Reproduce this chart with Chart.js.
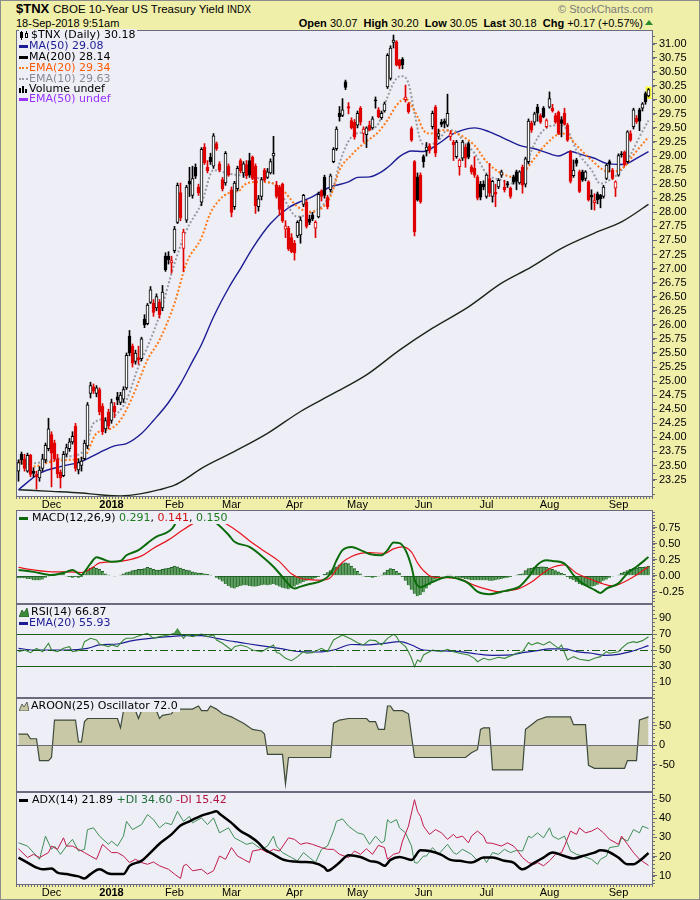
<!DOCTYPE html>
<html>
<head>
<meta charset="utf-8">
<title>$TNX CBOE 10-Year US Treasury Yield</title>
<script src="https://cdn.jsdelivr.net/npm/chart.js"></script>
<style>
  body { margin: 0; background: #fff; }
  #page { position: relative; width: 700px; height: 900px; background: #f0efaa; overflow: hidden;
          font-family: "Liberation Sans", Arial, sans-serif; color: #000; }
  #page canvas { position: absolute; left: 0; }
  .t { position: absolute; white-space: nowrap; font-size: 11px; line-height: 12px; }
  .lg { position: absolute; white-space: nowrap; font: 11px/12px "DejaVu Sans", sans-serif; background: #eeeef6; padding-right: 2px; }
  .ic { display: inline-block; vertical-align: middle; margin-right: 2px; }
  .dash { width: 9px; height: 3px; }
  .dots { width: 9px; height: 0; border-top: 2px dotted; }
  #edge { position: absolute; left: 0; top: 0; width: 700px; height: 900px; box-sizing: border-box; border: 1px solid #8c8c8c; pointer-events: none; }
</style>
</head>
<body>
<div id="page">
  <div class="t" style="left:16px;top:1px;font-size:13px;line-height:15px;font-weight:bold">$TNX</div>
  <div class="t" style="left:53px;top:3px;font-size:11.5px;line-height:13px">CBOE 10-Year US Treasury Yield <span style="font-size:10px">INDX</span></div>
  <div class="t" style="left:16px;top:17px">18-Sep-2018 9:51am</div>
  <div class="t" style="right:47px;top:3px;color:#7a7a7a">© StockCharts.com</div>
  <div class="t" style="right:57px;top:17px"><b>Open</b> 30.07&nbsp; <b>High</b> 30.20&nbsp; <b>Low</b> 30.05&nbsp; <b>Last</b> 30.18&nbsp; <b>Chg</b> +0.17 (+0.57%)</div>
  <div style="position:absolute;left:645px;top:20px;width:0;height:0;border-left:4px solid transparent;border-right:4px solid transparent;border-bottom:5px solid #2b8a2b"></div>

  <canvas id="price" width="700" height="482" style="top:30px"></canvas>
  <canvas id="macd" width="700" height="94" style="top:510px"></canvas>
  <canvas id="rsi" width="700" height="94" style="top:604px"></canvas>
  <canvas id="aroon" width="700" height="94" style="top:698px"></canvas>
  <canvas id="adx" width="700" height="108" style="top:792px"></canvas>

  <div class="lg" style="left:19px;top:29px"><svg class="ic" width="10" height="9"><rect x="1" y="1" width="3" height="6" fill="#000"/><line x1="2.5" y1="0" x2="2.5" y2="9" stroke="#000"/><rect x="6.5" y="2.5" width="2" height="4" fill="none" stroke="#000"/><line x1="7.5" y1="0" x2="7.5" y2="2" stroke="#000"/></svg>$TNX (Daily) 30.18</div>
  <div class="lg" style="left:19px;top:40px;color:#1c1c96"><span class="ic dash" style="background:#1c1c96;margin-right:1px"></span>MA(50) 29.08</div>
  <div class="lg" style="left:19px;top:51px"><span class="ic dash" style="background:#000;margin-right:1px"></span>MA(200) 28.14</div>
  <div class="lg" style="left:19px;top:62px;color:#ff5a00"><span class="ic dots" style="border-color:#ff7a1a;margin-right:1px"></span>EMA(20) 29.34</div>
  <div class="lg" style="left:19px;top:73px;color:#8a8a92"><span class="ic dots" style="border-color:#9a9aa2;margin-right:1px"></span>EMA(10) 29.63</div>
  <div class="lg" style="left:19px;top:83px"><svg class="ic" width="10" height="9" style="margin-right:0"><rect x="0" y="3" width="2" height="6" fill="#000"/><rect x="3" y="1" width="2" height="8" fill="#000"/><rect x="6" y="4" width="2" height="5" fill="#000"/></svg>Volume undef</div>
  <div class="lg" style="left:19px;top:93px;color:#9933ff"><span class="ic dash" style="background:#9933ff;margin-right:1px"></span>EMA(50) undef</div>

  <div class="lg" style="left:19px;top:512px"><span class="ic dash" style="background:#0b6b0b;margin-right:4px"></span>MACD(12,26,9) <span style="color:#1e7a1e">0.291</span>, <span style="color:#d01010">0.141</span>, <span style="color:#1e7a1e">0.150</span></div>
  <div class="lg" style="left:19px;top:606px"><svg class="ic" width="10" height="9"><polygon points="0,9 3,2 5,5 8,0 10,9" fill="#3a8a3a" stroke="#1f5f1f" stroke-width="0.8"/></svg>RSI(14) 66.87</div>
  <div class="lg" style="left:19px;top:617px;color:#1c1c96"><span class="ic dash" style="background:#1c1c96;margin-right:1px"></span>EMA(20) 55.93</div>
  <div class="lg" style="left:19px;top:700px"><svg class="ic" width="10" height="9"><polygon points="0,9 3,2 5,5 8,0 10,9" fill="#c9c8a6" stroke="#3b4a3b" stroke-width="0.8"/></svg>AROON(25) Oscillator 72.0</div>
  <div class="lg" style="left:19px;top:794px"><span class="ic dash" style="background:#000;margin-right:4px"></span>ADX(14) 21.89 <span style="color:#1f6e3a">+DI 34.60</span> <span style="color:#b0143e">-DI 15.42</span></div>

  <div id="edge"></div>
</div>

<script>
// trading day index of the first candle (0 = 1-Dec-2017)
const firstDay = -11;

// month labels on the date axis and the day index they sit on
const monthNames = ['Dec', '2018', 'Feb', 'Mar', 'Apr', 'May', 'Jun', 'Jul', 'Aug', 'Sep'];
const monthDays = [0, 20, 41, 60, 81, 102, 124, 145, 166, 189];

// daily candles, 15-Nov-2017 .. 18-Sep-2018
const opens = [
  23.40,23.70,23.62,23.40,23.68,23.40,23.34,23.28,23.45,23.60,
  23.80,24.05,23.90,23.62,23.38,23.32,23.70,23.80,23.92,24.20,
  23.42,23.50,23.62,23.85,24.78,24.90,24.78,24.85,24.55,24.15,
  24.45,24.30,24.55,24.72,24.62,24.68,24.88,25.80,25.62,25.35,
  25.42,25.40,26.10,26.02,26.40,26.38,26.30,26.40,26.30,27.22,
  27.22,27.10,27.32,27.82,28.35,27.36,27.86,28.55,28.30,28.80,
  28.45,28.18,29.16,28.80,28.98,28.82,29.22,28.86,28.58,28.52,
  28.82,28.40,28.10,28.42,28.92,28.70,28.85,28.92,28.98,28.82,
  28.10,28.28,28.75,28.62,28.70,29.00,28.48,28.45,28.50,27.70,
  27.72,27.55,27.45,27.58,27.60,28.14,28.18,27.88,27.95,27.72,
  27.92,28.38,28.62,28.26,28.40,28.90,29.13,29.76,29.72,30.32,
  29.88,29.63,29.60,29.55,29.85,29.40,29.38,29.55,29.50,30.00,
  29.82,29.68,29.80,30.23,30.38,31.02,31.03,30.70,30.72,30.00,
  29.93,29.49,28.90,28.63,28.66,28.99,29.10,29.18,29.52,29.87,
  29.35,29.60,29.62,29.55,29.35,29.25,28.99,28.81,28.96,29.16,
  29.22,28.81,28.78,28.63,28.50,28.50,28.28,28.60,28.28,28.36,
  28.45,28.66,28.45,28.51,28.43,28.63,28.72,28.52,28.80,28.50,
  28.90,29.58,29.60,29.87,29.72,29.85,29.52,29.87,29.85,29.72,
  29.78,29.65,29.76,29.55,29.07,28.65,28.93,28.72,28.72,28.60,
  28.54,28.30,28.17,28.33,28.30,28.28,28.60,28.90,28.75,28.43,
  28.66,29.04,29.07,28.90,29.40,29.52,29.67,29.82,29.85,30.11,30.07
];
const highs = [
  23.60,23.74,23.70,23.72,23.70,23.46,23.40,23.48,23.70,23.90,
  24.34,24.10,23.95,23.70,23.42,23.75,23.88,23.98,24.10,24.25,
  23.62,23.65,23.95,24.62,24.98,24.95,24.92,24.88,24.60,24.35,
  24.50,24.68,24.62,24.80,24.80,24.90,25.50,25.90,25.66,25.55,
  25.62,25.78,26.18,26.38,26.68,26.45,26.55,26.45,26.70,27.28,
  27.30,27.22,27.75,28.52,28.52,27.70,28.48,28.80,28.82,28.86,
  28.50,29.15,29.22,28.92,29.05,29.40,29.25,28.90,28.62,29.08,
  28.86,28.45,28.55,28.82,28.95,28.90,28.92,29.05,29.00,28.86,
  28.30,28.62,28.78,28.78,28.95,29.35,28.55,28.48,28.52,27.85,
  27.75,27.62,27.50,27.85,27.92,28.32,28.22,27.95,28.00,27.85,
  28.36,28.40,28.66,28.30,28.68,29.15,29.52,29.88,30.02,30.35,
  29.95,29.68,29.65,29.80,29.88,29.52,29.52,29.62,29.70,30.05,
  29.86,29.80,29.96,30.82,30.96,31.15,31.05,30.72,30.75,30.26,
  29.95,29.52,28.92,28.70,28.70,29.02,29.24,29.22,29.80,29.90,
  29.48,29.65,29.66,30.10,29.45,29.28,29.28,28.95,29.28,29.20,
  29.25,28.84,28.99,28.66,28.55,28.56,28.68,28.87,28.57,28.50,
  28.60,28.75,28.57,28.55,28.45,28.66,28.75,28.74,28.84,28.98,
  29.66,29.62,29.78,29.92,29.75,29.88,29.66,30.14,29.92,29.76,
  29.80,29.70,29.85,29.58,29.10,28.93,28.96,28.75,28.75,28.74,
  28.56,28.40,28.33,28.36,28.32,28.48,28.86,28.93,28.78,28.56,
  29.04,29.08,29.09,29.45,29.45,29.85,29.72,29.85,29.95,30.14,30.20
];
const lows = [
  23.22,23.52,23.40,23.38,23.30,23.30,23.08,23.22,23.40,23.55,
  23.76,23.12,23.58,23.28,23.10,23.30,23.66,23.75,23.88,23.40,
  23.35,23.40,23.60,23.80,24.70,24.78,24.72,24.40,24.05,24.08,
  24.15,24.25,24.35,24.58,24.58,24.62,24.85,25.45,25.25,25.30,
  25.30,25.36,25.95,26.00,26.38,26.15,26.25,26.12,26.25,26.95,
  27.08,26.92,27.28,27.80,27.85,26.95,27.82,28.28,28.25,28.60,
  28.30,28.12,28.85,28.70,28.85,28.78,29.10,28.72,28.38,28.48,
  28.64,27.92,28.05,28.38,28.70,28.62,28.60,28.62,28.58,27.98,
  28.02,28.22,28.55,28.60,28.68,28.68,28.25,27.95,27.82,27.55,
  27.32,27.28,27.15,27.55,27.45,28.10,27.72,27.78,27.85,27.55,
  27.90,28.20,28.25,28.06,28.36,28.88,29.10,29.62,29.70,30.18,
  29.75,29.48,29.30,29.50,29.55,29.25,29.15,29.45,29.48,29.85,
  29.68,29.65,29.78,30.20,30.35,30.92,30.60,30.55,30.55,29.96,
  29.76,29.26,27.58,28.20,28.16,28.80,29.00,29.05,29.48,28.99,
  29.30,29.52,29.50,29.52,29.28,28.92,28.96,28.66,28.92,28.80,
  28.95,28.68,28.62,28.22,28.22,28.40,28.25,28.28,28.18,28.10,
  28.42,28.62,28.36,28.44,28.25,28.50,28.40,28.50,28.34,28.45,
  28.86,29.42,29.55,29.62,29.58,29.68,29.50,29.85,29.78,29.58,
  29.38,29.34,29.55,29.26,28.52,28.62,28.82,28.35,28.55,28.56,
  28.20,28.05,28.04,28.15,28.08,28.25,28.58,28.72,28.58,28.28,
  28.64,28.98,28.82,28.88,29.26,29.48,29.58,29.45,29.80,29.92,30.05
];
const closes = [
  23.55,23.60,23.45,23.68,23.34,23.36,23.30,23.42,23.62,23.86,
  24.15,23.72,23.62,23.35,23.28,23.70,23.82,23.92,24.02,23.45,
  23.55,23.58,23.90,24.58,24.92,24.82,24.88,24.45,24.10,24.30,
  24.20,24.62,24.45,24.66,24.75,24.85,25.46,25.50,25.32,25.50,
  25.38,25.75,26.00,26.35,26.62,26.22,26.50,26.18,26.58,26.98,
  27.16,27.14,27.70,28.48,27.90,27.65,28.45,28.50,28.60,28.64,
  28.35,29.12,28.88,28.74,28.90,29.36,29.13,28.75,28.42,29.05,
  28.66,28.00,28.52,28.78,28.74,28.86,28.65,28.66,28.60,28.12,
  28.24,28.58,28.57,28.72,28.90,29.05,28.28,28.05,27.85,27.76,
  27.35,27.30,27.28,27.82,27.86,28.30,27.75,27.82,27.88,27.82,
  28.32,28.28,28.30,28.10,28.65,29.12,29.48,29.70,29.82,30.22,
  29.85,29.50,29.34,29.76,29.60,29.48,29.50,29.46,29.66,29.98,
  29.70,29.76,29.93,30.79,30.92,31.06,30.62,30.60,30.62,30.05,
  29.79,29.28,27.65,28.22,28.19,28.90,29.16,29.10,29.76,29.05,
  29.40,29.56,29.58,29.76,29.40,29.20,29.25,28.93,29.25,28.96,
  28.98,28.72,28.66,28.25,28.27,28.45,28.66,28.34,28.55,28.32,
  28.57,28.72,28.40,28.48,28.28,28.54,28.55,28.72,28.48,28.95,
  29.62,29.46,29.75,29.76,29.60,29.70,29.63,30.02,29.80,29.60,
  29.40,29.58,29.56,29.28,28.55,28.75,28.87,28.37,28.57,28.72,
  28.22,28.27,28.21,28.22,28.24,28.45,28.84,28.86,28.60,28.54,
  29.01,29.02,28.84,29.43,29.28,29.82,29.61,29.62,29.93,29.96,30.18
];

// overlays: [day, value]
const ma50 = [[-11,23.07],[-4,23.36],[3,23.48],[10,23.57],[16,23.73],[21,23.85],[25,23.89],[30,24.07],[34,24.30],[39,24.62],[43,24.95],[47,25.35],[50,25.65],[54,26.14],[59,26.65],[63,27.0],[67,27.36],[73,27.8],[79,28.08],[83,28.19],[86,28.25],[90,28.37],[93,28.45],[99,28.54],[102,28.62],[106,28.63],[110,28.72],[113,28.84],[116,28.99],[120,29.09],[124,29.08],[129,29.22],[133,29.37],[137,29.46],[141,29.50],[146,29.43],[151,29.31],[156,29.19],[161,29.13],[165,29.06],[169,29.0],[173,29.08],[177,29.02],[181,28.96],[185,28.87],[190,28.85],[192,28.87],[195,28.96],[199,29.08]];
const ma200 = [[-11,23.07],[0,23.04],[10,23.01],[16,22.98],[23,22.96],[30,23.0],[36,23.07],[41,23.15],[45,23.27],[50,23.45],[61,23.75],[72,24.07],[83,24.46],[94,24.78],[105,25.11],[116,25.55],[127,25.94],[139,26.32],[150,26.74],[160,27.03],[170,27.36],[181,27.63],[190,27.83],[199,28.14]];
const ema20 = [[-11,23.57],[-6,23.48],[0,23.57],[6,23.60],[11,23.66],[15,24.07],[20,24.16],[23,24.31],[27,24.72],[32,25.38],[36,25.73],[41,26.38],[45,27.10],[50,27.55],[53,27.99],[56,28.22],[59,28.34],[63,28.40],[64,28.48],[69,28.54],[74,28.51],[77,28.40],[82,28.10],[86,28.01],[90,28.07],[93,28.28],[96,28.75],[100,29.02],[104,29.22],[109,29.43],[112,29.64],[115,29.9],[118,30.02],[120,29.9],[122,29.7],[124,29.46],[126,29.4],[131,29.46],[135,29.4],[137,29.35],[141,29.19],[145,28.9],[150,28.69],[154,28.63],[157,28.69],[161,28.96],[165,29.22],[170,29.4],[172,29.37],[175,29.19],[180,28.93],[184,28.75],[187,28.72],[191,28.81],[194,29.02],[199,29.34]];
const ema10 = [[-11,23.6],[-6,23.54],[0,23.6],[6,23.66],[11,23.78],[14,24.25],[19,24.34],[22,24.43],[25,24.66],[29,25.26],[32,25.61],[36,26.17],[41,27.09],[45,27.68],[50,28.16],[54,28.75],[59,28.69],[63,28.66],[66,28.69],[71,28.54],[74,28.51],[77,28.28],[82,27.92],[86,27.98],[91,28.16],[94,28.45],[96,28.87],[100,29.34],[104,29.43],[109,29.58],[112,30.05],[115,30.38],[117,30.42],[119,30.29],[121,29.76],[123,29.28],[125,29.19],[129,29.28],[132,29.46],[135,29.43],[137,29.28],[141,29.05],[145,28.69],[150,28.57],[154,28.51],[157,28.69],[161,29.22],[164,29.46],[169,29.55],[172,29.46],[175,29.1],[180,28.75],[183,28.51],[186,28.57],[190,28.75],[193,29.02],[196,29.34],[199,29.63]];

// MACD(12,26,9)
const macdLine = [[-11,0.09],[-6,0.06],[0,0.01],[5,0.06],[7,0.09],[10,0.01],[11,0.06],[13,0.19],[15,0.29],[17,0.26],[20,0.22],[23,0.23],[25,0.32],[29,0.40],[32,0.51],[35,0.61],[39,0.69],[41,0.79],[42,0.92],[45,0.97],[48,0.98],[51,0.94],[55,0.82],[59,0.64],[61,0.53],[66,0.45],[71,0.27],[74,0.14],[77,-0.02],[80,-0.18],[81,-0.20],[83,-0.17],[86,-0.13],[90,-0.08],[93,0.03],[95,0.24],[97,0.40],[100,0.45],[103,0.40],[106,0.34],[110,0.32],[112,0.40],[114,0.52],[116,0.51],[118,0.40],[120,0.14],[121,-0.06],[123,-0.18],[126,-0.12],[130,-0.04],[132,-0.02],[135,-0.04],[139,-0.12],[142,-0.25],[146,-0.29],[150,-0.25],[153,-0.22],[156,-0.17],[159,-0.02],[162,0.17],[165,0.24],[167,0.23],[171,0.19],[174,0.01],[177,-0.12],[181,-0.22],[183,-0.27],[185,-0.20],[189,-0.12],[192,0.04],[195,0.14],[199,0.291]];
const macdSignal = [[-11,0.13],[-6,0.09],[0,0.06],[5,0.06],[10,0.05],[14,0.14],[16,0.20],[21,0.22],[25,0.24],[30,0.31],[34,0.43],[39,0.56],[43,0.69],[47,0.81],[50,0.87],[53,0.89],[56,0.86],[59,0.79],[63,0.66],[67,0.51],[72,0.35],[76,0.22],[80,0.03],[83,-0.04],[86,-0.06],[90,-0.07],[93,-0.03],[95,0.10],[97,0.21],[100,0.30],[103,0.35],[106,0.36],[111,0.35],[114,0.42],[117,0.45],[120,0.37],[122,0.20],[124,0.08],[127,-0.02],[132,-0.03],[136,-0.05],[141,-0.15],[145,-0.21],[149,-0.25],[153,-0.23],[156,-0.20],[160,-0.10],[163,0.01],[166,0.11],[171,0.17],[175,0.04],[180,-0.06],[184,-0.13],[187,-0.16],[192,-0.07],[195,0.01],[199,0.141]];
const macdHist = [
  -0.04,-0.04,-0.04,-0.05,-0.05,-0.07,-0.07,-0.07,-0.06,
  -0.03,-0.01,0.01,0.02,0.03,0.04,0.04,
  -0.01,-0.02,-0.03,-0.02,-0.03,-0.02,
  0.03,0.08,0.12,0.13,0.12,0.10,0.07,0.03,
  0.01,0.00,-0.01,0.00,0.01,
  0.03,0.05,0.06,0.08,0.09,0.10,0.10,0.11,0.13,0.12,0.10,0.09,0.09,0.10,0.11,0.12,0.13,
  0.15,0.14,0.12,0.10,0.09,0.08,0.06,0.05,0.04,0.04,0.03,0.02,0.01,0.00,
  -0.03,-0.06,-0.09,-0.13,-0.16,-0.19,-0.20,-0.18,-0.16,
  -0.15,-0.15,-0.16,-0.17,-0.17,-0.16,-0.15,-0.14,-0.15,-0.14,-0.13,
  -0.15,-0.17,-0.19,-0.20,-0.21,-0.19,-0.17,
  -0.14,-0.12,-0.10,-0.08,-0.07,-0.06,-0.04,-0.02,
  0.00,0.02,0.05,0.08,0.11,0.14,0.17,0.19,0.20,0.19,
  0.15,0.11,0.07,0.03,
  -0.01,-0.02,-0.02,-0.03,-0.02,-0.01,0.01,
  0.05,0.09,0.11,0.10,0.07,0.04,
  -0.02,-0.08,-0.15,-0.22,-0.28,-0.32,-0.30,-0.26,-0.20,-0.15,-0.10,-0.06,
  -0.03,-0.01,0.00,0.01,0.01,0.00,-0.02,
  -0.03,-0.04,-0.05,-0.06,-0.07,-0.07,-0.07,-0.07,-0.07,-0.07,-0.08,-0.08,-0.07,-0.06,-0.05,-0.04,-0.03,-0.02,
  0.00,0.01,0.02,0.03,
  0.08,0.11,0.12,0.13,0.13,0.14,0.14,0.13,0.12,0.10,0.08,0.06,0.04,0.02,
  -0.02,-0.05,-0.07,-0.10,-0.13,-0.15,-0.16,-0.17,-0.17,-0.16,-0.14,-0.11,-0.08,-0.06,-0.03,
  -0.01,0.00,0.01,
  0.04,0.06,0.08,0.10,0.11,0.12,0.13,0.13,0.14,0.15
];

// RSI(14) and its EMA(20)
const rsi = [[-11,48.3],[-9,50.4],[-7,47.1],[-5,52.5],[-3,48.3],[-1,58.8],[0,50.4],[2,48.3],[4,52.5],[6,54.6],[7,48.3],[10,50.4],[11,60.8],[13,65],[15,62.9],[16,57.9],[19,54.6],[20,56.7],[22,54.6],[24,62.9],[25,65],[27,65],[30,69.2],[32,71.3],[34,65],[36,67.1],[39,69.2],[41,71.3],[42,76.7],[44,65],[45,69.2],[47,67.1],[50,70.4],[52,67.1],[54,69.2],[55,62.9],[57,58.8],[60,50.4],[61,54.6],[63,56.7],[65,54.6],[67,50.4],[70,48.3],[72,52.5],[74,56.7],[75,47.1],[76,46.3],[78,40],[80,37.1],[82,42.1],[84,48.3],[85,46.3],[87,47.1],[90,52.5],[92,48.3],[94,62.9],[95,65],[97,69.2],[100,63.8],[102,59.6],[104,56.7],[106,62.9],[108,62.1],[110,56.7],[112,65],[114,70],[115,67.1],[116,60.8],[118,54.6],[119,48.3],[120,40],[121,29.6],[122,37.9],[123,35.8],[124,44.2],[126,48.3],[127,50.4],[130,48.3],[132,51.3],[134,48.3],[136,46.3],[139,44.2],[141,40],[142,35.8],[144,40],[146,37.9],[149,41.3],[151,40],[153,42.9],[155,46.3],[157,48.3],[159,59.6],[160,56.7],[162,59.6],[164,56.7],[166,60.8],[169,52.5],[170,56.7],[172,37.9],[174,42.1],[176,38.8],[179,37.1],[181,40],[183,42.1],[185,48.3],[186,46.3],[189,48.3],[190,52.5],[192,58.8],[194,60.8],[195,59.6],[197,62.1],[199,66.87]];
const rsiEma = [[-11,52.5],[-6,50.4],[0,50.4],[5,50.4],[12,52.5],[16,56.7],[22,57.9],[27,62.1],[33,65],[39,67.1],[44,68.3],[50,68.3],[55,65],[61,60.8],[66,57.9],[72,54.6],[77,51.7],[83,48.3],[89,47.9],[94,50.4],[100,57.3],[105,56.7],[111,58.8],[116,60.8],[120,56.7],[124,50.4],[131,49.2],[136,48.3],[142,45.4],[147,43.8],[153,44.2],[157,47.1],[162,49.6],[166,51.7],[171,51.7],[175,48.3],[180,46.3],[184,43.8],[189,45],[193,48.3],[199,55.93]];
const rsiLevels = [70, 50, 30];

// AROON(25) oscillator
const aroon = [[-11,28],[-8,28],[-7,16],[-5,16],[-4,-40],[-1,-40],[0,-32],[1,64],[8,64],[9,8],[10,8],[11,60],[12,68],[22,68],[23,44],[24,88],[28,88],[29,68],[30,88],[35,88],[36,68],[37,76],[40,80],[41,92],[47,92],[49,100],[50,88],[52,88],[53,100],[55,92],[57,80],[60,72],[61,68],[64,56],[67,40],[70,36],[71,28],[72,-24],[77,-24],[78,-100],[79,-32],[93,-32],[94,56],[96,64],[99,68],[105,68],[106,60],[108,60],[109,40],[111,40],[112,100],[113,100],[114,88],[117,88],[119,80],[121,-32],[138,-32],[140,-20],[142,-12],[143,40],[144,44],[146,44],[147,-64],[157,-64],[158,40],[160,52],[162,64],[165,72],[173,72],[174,52],[178,52],[179,-52],[181,-60],[191,-60],[192,-40],[195,-40],[196,64],[199,72]];

// ADX(14), +DI, -DI
const adx = [[-11,19.5],[-8,16.9],[-5,14.3],[-3,13.4],[0,13.8],[2,11.7],[5,10.9],[9,9.7],[11,8.6],[13,10.9],[16,13.4],[19,11.2],[21,10.9],[24,10.9],[26,15.2],[30,17.8],[33,22.1],[36,26.7],[40,31.6],[43,36.2],[46,38.4],[50,41.4],[53,42.8],[55,43.6],[56,42.4],[60,37.6],[63,33.3],[66,30.7],[69,27.2],[71,23.8],[74,21.2],[77,18.6],[81,17.4],[84,17.2],[87,16.9],[91,14.3],[92,12.6],[94,14.3],[96,16.9],[99,20.7],[103,19.8],[106,17.8],[109,16.9],[111,15.2],[113,18.3],[116,19.8],[120,18.3],[123,23.3],[126,22.9],[130,20.9],[133,18.3],[136,17.8],[140,16.9],[144,19.5],[147,19.5],[151,17.8],[154,16.9],[157,13.4],[161,16.9],[164,19.5],[167,22.1],[171,20.3],[174,19],[177,20.3],[181,22.1],[183,23.3],[185,22.9],[189,19.5],[192,16],[194,16],[196,17.8],[199,21.89]];
const plusDI = [[-11,27.2],[-8,25.5],[-6,22.1],[-4,18.6],[-2,30.7],[0,23.8],[1,25.5],[3,21.2],[5,25.5],[7,29],[9,22.9],[11,23.8],[12,34.1],[14,35],[16,30.7],[19,26.4],[20,28.1],[22,25.5],[24,30.7],[25,38.4],[27,34.1],[30,36.7],[32,41.9],[34,39.3],[36,35],[38,37.6],[40,36.7],[42,43.6],[44,38.4],[46,41],[47,37.6],[50,40.2],[52,36.7],[54,40.2],[56,32.4],[59,35],[61,29.8],[63,28.1],[65,26.4],[67,27.2],[70,23.8],[72,25.5],[74,30.7],[75,25.5],[77,22.1],[80,19.5],[82,17.8],[84,22.1],[86,19.5],[88,16.9],[90,23.8],[92,25.5],[94,33.3],[95,38.4],[97,39.7],[99,35.9],[102,32.4],[104,31.6],[106,26.4],[108,30.7],[110,27.2],[111,28.1],[112,39.3],[113,37.6],[115,39.3],[116,35],[118,32.4],[120,25.5],[121,16.9],[122,16.6],[124,20.3],[125,20.3],[127,24.7],[129,21.2],[132,26.4],[134,22.1],[135,21.2],[137,23.8],[140,21.2],[142,17.8],[144,19.5],[145,16.9],[147,22.1],[149,21.2],[151,23.8],[153,22.1],[155,23.3],[157,22.9],[159,30.7],[160,29.8],[162,32.4],[164,29.8],[166,35],[167,30.7],[169,29],[171,30.7],[173,22.9],[175,21.2],[177,20.3],[180,18.6],[182,16],[183,18.6],[185,20.3],[186,24.7],[189,25.5],[190,29.8],[192,28.1],[194,34.1],[196,32.4],[197,35.9],[199,34.6]];
const minusDI = [[-11,24.1],[-8,19.5],[-6,21.2],[-4,19.5],[-1,22.1],[0,25.5],[2,23.8],[4,29.8],[5,25.5],[7,25.5],[9,23.8],[11,22.1],[13,20.3],[15,18.6],[17,26.4],[20,22.1],[22,22.1],[24,20.3],[26,16.9],[28,18.6],[30,16.9],[32,16],[34,17.2],[36,15.2],[39,13.4],[41,10.9],[43,8.6],[44,15.2],[45,16],[47,12.6],[50,13.4],[52,10.9],[54,12.6],[56,20.3],[58,18.6],[60,24.7],[62,20.3],[64,18.6],[66,16.9],[67,22.9],[70,23.8],[72,22.1],[74,23.8],[76,22.9],[79,29.8],[81,29],[83,26.4],[85,27.2],[87,26.4],[90,24.7],[92,23.8],[94,23.8],[96,21.2],[99,19.5],[101,22.9],[103,21.2],[105,24.1],[107,21.2],[109,25.9],[111,24.7],[112,18.6],[114,21.2],[116,22.1],[117,28.1],[119,35.9],[121,49.7],[122,43.6],[123,41],[124,35.9],[126,31.6],[128,34.1],[130,32.4],[132,29],[134,31.6],[135,29.8],[137,30.7],[139,27.2],[140,30.7],[142,33.3],[144,30.7],[145,27.2],[147,26.9],[150,25.5],[152,27.2],[154,25.5],[155,23.8],[157,19.5],[159,16.9],[161,16],[162,16.9],[164,15.2],[166,17.8],[168,21.2],[170,22.1],[171,25.5],[173,33.3],[175,31.6],[176,35],[178,32.4],[180,33.3],[182,35],[184,32.4],[186,29],[189,26.4],[190,30.7],[192,26.4],[194,22.1],[196,18.6],[199,15.42]];

// axis ticks for each panel
const priceTicks = [23.25,23.5,23.75,24,24.25,24.5,24.75,25,25.25,25.5,25.75,26,26.25,26.5,26.75,27,27.25,27.5,27.75,28,28.25,28.5,28.75,29,29.25,29.5,29.75,30,30.25,30.5,30.75,31];
const macdTicks = [-0.25, 0, 0.25, 0.5, 0.75];
const rsiTicks = [10, 30, 50, 70, 90];
const aroonTicks = [-50, 0, 50];
const adxTicks = [10, 20, 30, 40, 50];

Chart.defaults.font.family = '"Liberation Sans", Arial, sans-serif';
Chart.defaults.font.size = 11;
Chart.defaults.color = '#000';

const xMin = -11.8333, xMax = 200.5;
const pts = arr => arr.map(p => ({ x: p[0], y: p[1] }));

// plot background, frame, level lines, last-bar highlight, minor axis ticks
const framePlugin = {
  id: 'frame',
  beforeDraw(chart) {
    const a = chart.chartArea, c = chart.ctx;
    c.save();
    c.fillStyle = '#eeeef6';
    c.fillRect(a.left, a.top, a.width, a.height);
    c.restore();
  },
  beforeDatasetsDraw(chart, args, o) {
    if (o.markLast === undefined) return;
    const els = chart.getDatasetMeta(o.markLast).data;
    const el = els[els.length - 1];
    const c = chart.ctx;
    c.save();
    c.fillStyle = '#ffff33';
    c.fillRect(el.x - 3, el.y - 2, 6, el.base - el.y + 4);
    c.restore();
  },
  afterDatasetsDraw(chart, args, o) {
    const a = chart.chartArea, c = chart.ctx, y = chart.scales.y;
    c.save();
    (o.levels || []).forEach(l => {
      const py = Math.round(y.getPixelForValue(l.v)) + 0.5;
      c.strokeStyle = l.color;
      c.lineWidth = 1;
      c.setLineDash(l.dash || []);
      c.beginPath(); c.moveTo(a.left, py); c.lineTo(a.right, py); c.stroke();
    });
    c.restore();
  },
  afterDraw(chart, args, o) {
    const a = chart.chartArea, c = chart.ctx, y = chart.scales.y;
    c.save();
    c.strokeStyle = '#6b6b80';
    c.lineWidth = 1;
    c.strokeRect(a.left + 0.5, a.top + 0.5, a.width - 1, a.height - 1);
    if (o.minor) {
      c.beginPath();
      for (let v = Math.ceil(y.min / o.minor) * o.minor; v <= y.max; v += o.minor) {
        const py = Math.round(y.getPixelForValue(v)) + 0.5;
        c.moveTo(a.right, py); c.lineTo(a.right + 2, py);
      }
      c.stroke();
    }
    if (o.dayTicks) {
      c.setLineDash([1, 2]);
      c.lineWidth = 2;
      c.beginPath(); c.moveTo(a.left, a.bottom + 1); c.lineTo(a.right, a.bottom + 1); c.stroke();
    }
    c.restore();
  }
};

function noPad(s) { s.paddingTop = 0; s.paddingBottom = 0; s.paddingLeft = 0; s.paddingRight = 0; }

function panel(id, yMin, yMax, yTicks, fmt, datasets, frameOpts, showX) {
  return new Chart(document.getElementById(id), {
    type: 'line',
    data: { datasets: datasets },
    options: {
      responsive: false,
      animation: false,
      events: [],
      layout: { padding: { left: 16, right: 0, top: 0, bottom: 0 } },
      plugins: { legend: { display: false }, tooltip: { enabled: false }, frame: frameOpts },
      elements: { point: { radius: 0 }, line: { fill: false } },
      scales: {
        x: {
          type: 'linear', min: xMin, max: xMax, offset: false, display: !!showX,
          grid: { display: false, drawTicks: false, tickLength: 0 }, border: { display: false },
          afterFit: s => { s.height = showX ? 15 : 0; noPad(s); },
          afterBuildTicks: s => { s.ticks = monthDays.map(v => ({ value: v })); },
          ticks: {
            display: !!showX, autoSkip: false, maxRotation: 0, padding: 1,
            callback: (v, k) => monthNames[k],
            font: c => ({ size: 11, weight: (c.tick && c.tick.value === monthDays[1]) ? 'bold' : 'normal' })
          }
        },
        y: {
          position: 'right', min: yMin, max: yMax,
          afterFit: s => { s.width = 47; noPad(s); },
          afterBuildTicks: s => { s.ticks = yTicks.map(v => ({ value: v })); },
          grid: { drawOnChartArea: false, tickLength: 4, color: '#6b6b80' },
          border: { display: false },
          ticks: { padding: 2, autoSkip: false, callback: fmt }
        }
      }
    },
    plugins: [framePlugin]
  });
}

// candle colours: red when the close is below the prior close, hollow when close > open
const candleColor = closes.map((c, k) => c < (k ? closes[k - 1] : opens[k]) ? '#e00000' : '#000000');
const bodyFill = closes.map((c, k) => c > opens[k] ? '#ffffff' : candleColor[k]);
const wickData = closes.map((c, k) => ({ x: firstDay + k, y: [lows[k], highs[k]] }));
const bodyData = closes.map((c, k) => {
  const lo = Math.min(opens[k], c), hi = Math.max(opens[k], c);
  return { x: firstDay + k, y: [lo, hi - lo < 0.01 ? lo + 0.01 : hi] };
});

panel('price', 22.94, 31.24, priceTicks, v => v.toFixed(2), [
  { type: 'line', data: pts(ma200), borderColor: '#1b261b', borderWidth: 1.4, cubicInterpolationMode: 'monotone', order: 6 },
  { type: 'line', data: pts(ma50), borderColor: '#1c1c96', borderWidth: 1.4, cubicInterpolationMode: 'monotone', order: 5 },
  { type: 'line', data: pts(ema20), borderColor: '#ff7a1a', borderWidth: 2, borderDash: [2, 2], cubicInterpolationMode: 'monotone', order: 4 },
  { type: 'line', data: pts(ema10), borderColor: '#9a9aa2', borderWidth: 2, borderDash: [2, 2], cubicInterpolationMode: 'monotone', order: 4 },
  { type: 'bar', data: wickData, backgroundColor: candleColor, barThickness: 1, grouped: false, order: 2 },
  { type: 'bar', data: bodyData, backgroundColor: bodyFill, borderColor: candleColor, borderWidth: 1, borderSkipped: false, barThickness: 3, grouped: false, order: 1 }
], { markLast: 4, dayTicks: true, minor: 0.125 }, true);

panel('macd', -0.442, 1.027, macdTicks, v => v.toFixed(2), [
  { type: 'bar', data: macdHist.map((v, k) => ({ x: firstDay + k, y: v })), backgroundColor: '#5f9f5f', borderColor: '#22602a',
    borderWidth: { left: 1, right: 0, top: 1, bottom: 0 }, borderSkipped: false, barThickness: 3, grouped: false, order: 5 },
  { type: 'line', data: pts(macdSignal), borderColor: '#e8141c', borderWidth: 1.2, cubicInterpolationMode: 'monotone', order: 2 },
  { type: 'line', data: pts(macdLine), borderColor: '#0b6b0b', borderWidth: 2, cubicInterpolationMode: 'monotone', order: 1 }
], { minor: 0.05 }, false);

panel('rsi', -9.6, 107.9, rsiTicks, v => String(v), [
  { type: 'line', data: pts(rsiEma), borderColor: '#1c1c96', borderWidth: 1.2, cubicInterpolationMode: 'monotone', order: 2 },
  { type: 'line', data: pts(rsi), borderColor: '#3a8a3a', borderWidth: 1.1, tension: 0, order: 1,
    fill: { target: { value: 70 }, above: '#4c9a4c', below: 'rgba(0,0,0,0)' } }
], { minor: 5, levels: [
  { v: rsiLevels[0], color: '#1a5c1a' },
  { v: rsiLevels[1], color: '#1a5c1a', dash: [8, 3, 2, 3] },
  { v: rsiLevels[2], color: '#1a5c1a' }
] }, false);

panel('aroon', -120.5, 120.5, aroonTicks, v => String(v), [
  { type: 'line', data: pts(aroon), borderColor: '#3b4a3b', borderWidth: 1.2, tension: 0,
    fill: { target: { value: 0 }, above: '#c9c8a6', below: '#c9c8a6' } }
], { minor: 10, levels: [{ v: 0, color: '#6b6b7a' }] }, false);

panel('adx', 5.2, 53.7, adxTicks, v => String(v), [
  { type: 'line', data: pts(plusDI), borderColor: '#3f8f57', borderWidth: 1, tension: 0, order: 3 },
  { type: 'line', data: pts(minusDI), borderColor: '#c21a4a', borderWidth: 1, tension: 0, order: 2 },
  { type: 'line', data: pts(adx), borderColor: '#000000', borderWidth: 2.5, cubicInterpolationMode: 'monotone', order: 1 }
], { dayTicks: true, minor: 2 }, true);
</script>
</body>
</html>
